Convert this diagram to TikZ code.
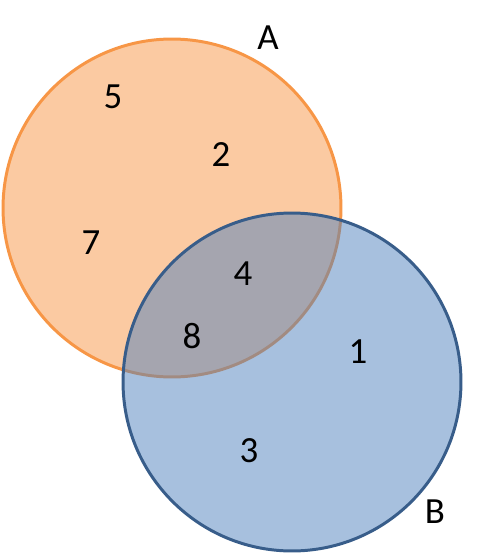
\documentclass[tikz,border=0pt]{standalone}
\usepackage{fontspec}
\setmainfont{Carlito}
\usepackage{xcolor}
\usepackage{tikz}
\usetikzlibrary{positioning}
\definecolor{setorange}{HTML}{F79646}
\definecolor{setblue}{HTML}{4F81BD}
\definecolor{setblueline}{HTML}{385D8A}
\tikzset{
  setA/.style={
    circle, draw=setorange, fill=setorange, fill opacity=0.5, draw opacity=1,
    minimum size=6.76cm, inner sep=0pt, line width=1.7pt
  },
  setB/.style={
    circle, draw=setblueline, fill=setblue, fill opacity=0.5, draw opacity=1,
    minimum size=6.76cm, inner sep=0pt, line width=1.7pt
  },
  elem/.style={font=\fontsize{21}{25}\selectfont, inner sep=0pt, text opacity=1},
  setname/.style={font=\fontsize{21}{25}\selectfont, inner sep=0pt},
}

\begin{document}
\begin{tikzpicture}[x=0.02cm, y=-0.02cm]

  \useasboundingbox (0,0) rectangle (483,557);

  % Sets
  \node[setA] (circA) at (172,208) {};
  \node[setB] (circB) at (292,382) {};

  % Set names
  \node[setname] (nameA) at (268,38)  {A};
  \node[setname] (nameB) at (435,512) {B};

  % Elements of A only
  \node[elem] (e5) at (113,97)  {5};
  \node[elem] (e2) at (221,155) {2};
  \node[elem] (e7) at (91,243)  {7};

  % Elements of A and B
  \node[elem] (e4) at (243,274) {4};
  \node[elem] (e8) at (192,336) {8};

  % Elements of B only
  \node[elem] (e1) at (358,352) {1};
  \node[elem] (e3) at (249,451) {3};

\end{tikzpicture}
\end{document}
